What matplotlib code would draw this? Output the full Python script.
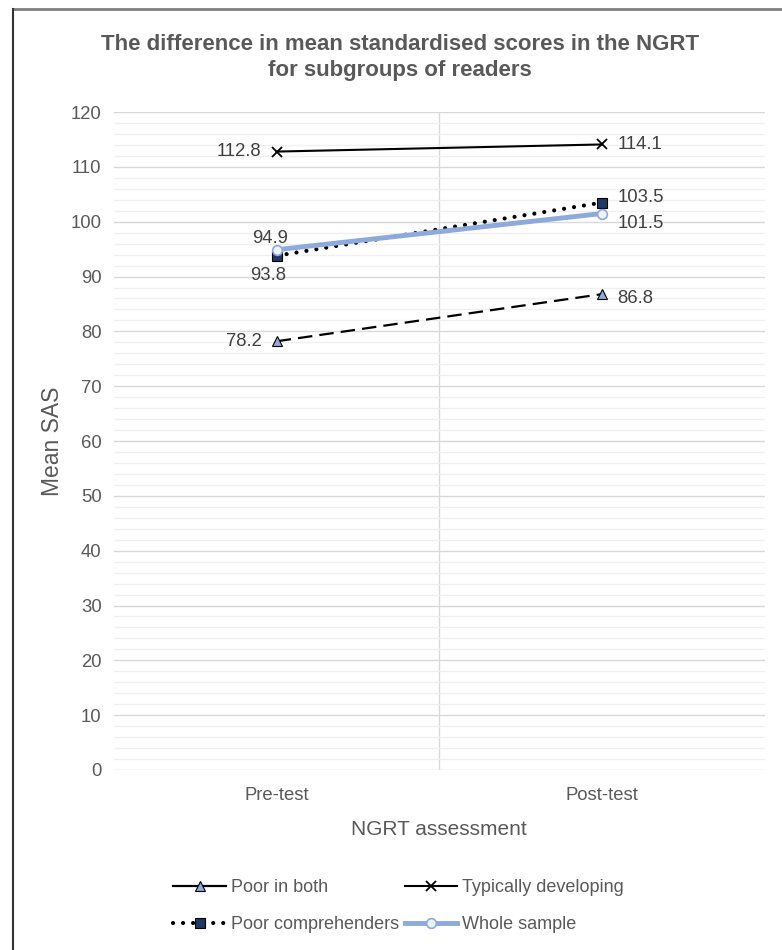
import matplotlib
matplotlib.use("Agg")
import matplotlib.pyplot as plt
from matplotlib.ticker import MultipleLocator
from matplotlib.lines import Line2D

categories = ["Pre-test", "Post-test"]
poor_in_both = [78.2, 86.8]
typically_developing = [112.8, 114.1]
poor_comprehenders = [93.8, 103.5]
whole_sample = [94.9, 101.5]
y_ticks = list(range(0, 121, 10))

plt.rcParams['font.family'] = ['Liberation Sans', 'DejaVu Sans']
gray = '#595959'

fig = plt.figure(figsize=(7.82, 9.5), dpi=100)
ax = fig.add_axes([0.1458, 0.1895, 0.832, 0.6925])

x = [0, 1]
style_pib = dict(color='black', lw=1.6, dashes=(6.5, 3.2), marker='^', ms=7,
                 mfc='#8EA9DB', mec='black', mew=0.8)
style_td = dict(color='black', lw=1.5, marker='x', ms=7.5, mec='black', mew=1.3)
style_pc = dict(color='black', lw=3.0, linestyle=(0, (0.01, 2.4)), dash_capstyle='round',
                marker='s', ms=7.5, mfc='#1F3864', mec='black', mew=0.8)
style_ws = dict(color='#8EA9DB', lw=3.5, marker='o', ms=7, mfc='#EEF2FA',
                mec='#8EA9DB', mew=1.2)

ax.plot(x, poor_in_both, zorder=3, **style_pib)
ax.plot(x, typically_developing, zorder=3, **style_td)
ax.plot(x, poor_comprehenders, zorder=3, **style_pc)
ax.plot(x, whole_sample, zorder=4, **style_ws)

lab_kw = dict(fontsize=13.3, color='#404040')
ax.annotate(f"{typically_developing[0]}", (0, typically_developing[0]), xytext=(-11, 0),
            textcoords='offset points', ha='right', va='center', **lab_kw)
ax.annotate(f"{typically_developing[1]}", (1, typically_developing[1]), xytext=(11, 0),
            textcoords='offset points', ha='left', va='center', **lab_kw)
ax.annotate(f"{poor_in_both[0]}", (0, poor_in_both[0]), xytext=(-11, 0),
            textcoords='offset points', ha='right', va='center', **lab_kw)
ax.annotate(f"{poor_in_both[1]}", (1, poor_in_both[1]), xytext=(11, -3),
            textcoords='offset points', ha='left', va='center', **lab_kw)
ax.annotate(f"{poor_comprehenders[0]}", (0, poor_comprehenders[0]), xytext=(-6, -14),
            textcoords='offset points', ha='center', va='center', **lab_kw)
ax.annotate(f"{poor_comprehenders[1]}", (1, poor_comprehenders[1]), xytext=(11, 4),
            textcoords='offset points', ha='left', va='center', **lab_kw)
ax.annotate(f"{whole_sample[0]}", (0, whole_sample[0]), xytext=(-5, 8),
            textcoords='offset points', ha='center', va='center', **lab_kw)
ax.annotate(f"{whole_sample[1]}", (1, whole_sample[1]), xytext=(11, -7),
            textcoords='offset points', ha='left', va='center', **lab_kw)

ax.set_xlim(-0.5, 1.5)
ax.set_ylim(0, 120)
ax.set_xticks(x)
ax.set_xticklabels(categories)
ax.set_yticks(y_ticks)
ax.yaxis.set_minor_locator(MultipleLocator(2))
ax.set_xticks([0.5], minor=True)
ax.tick_params(axis='both', which='both', length=0, labelsize=13.3, colors=gray, pad=9)
ax.tick_params(axis='x', pad=12)
ax.grid(axis='y', which='major', color='#D9D9D9', lw=1.0, zorder=0)
ax.grid(axis='y', which='minor', color='#F0F0F0', lw=1.0, zorder=0)
ax.grid(axis='x', which='minor', color='#D9D9D9', lw=1.0, zorder=0)
ax.set_axisbelow(True)
for s in ax.spines.values():
    s.set_visible(False)

ax.set_ylabel("Mean SAS", fontsize=16.5, color=gray, labelpad=5)
ax.set_xlabel("NGRT assessment", fontsize=15, color=gray, labelpad=12)

fig.text(0.511, 0.9645, "The difference in mean standardised scores in the NGRT\nfor subgroups of readers",
         ha='center', va='top', fontsize=16, fontweight='bold', color=gray, linespacing=1.3)

leg_pib = dict(style_pib)
leg_pib.pop('dashes')
handles = [
    Line2D([], [], **leg_pib),
    Line2D([], [], **style_td),
    Line2D([], [], **style_pc),
    Line2D([], [], **style_ws),
]
labels = ["Poor in both", "Typically developing", "Poor comprehenders", "Whole sample"]
order = [0, 2, 1, 3]
fig.legend([handles[i] for i in order], [labels[i] for i in order], ncol=2,
           loc='center', bbox_to_anchor=(0.51, 0.046), frameon=False, fontsize=13,
           labelcolor=gray, handlelength=2.9, handletextpad=0.3, columnspacing=0.3,
           labelspacing=1.1)

# border
fig.add_artist(Line2D([13/782, 1.0], [1-8.5/950, 1-8.5/950], transform=fig.transFigure,
                      color='#808080', lw=2.0))
fig.add_artist(Line2D([13/782, 13/782], [0.0, 1-8.5/950], transform=fig.transFigure,
                      color='#333333', lw=1.5))

fig.savefig("out.png", dpi=100)
